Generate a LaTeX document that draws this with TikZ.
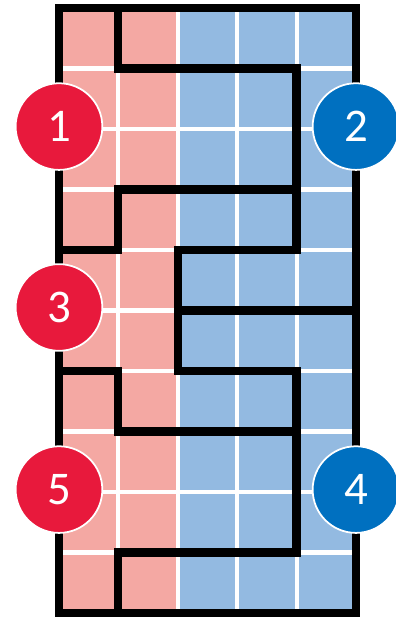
\documentclass[tikz,border=0pt]{standalone}
\usepackage{fontspec}
\setmainfont{Carlito}
\definecolor{cellred}{HTML}{F4A8A3}
\definecolor{cellblue}{HTML}{93BAE1}
\definecolor{badgered}{HTML}{E8193C}
\definecolor{badgeblue}{HTML}{0070C0}
\begin{document}
\begin{tikzpicture}[x=1.782cm, y=-1.815cm,
    gridline/.style={draw=white, line width=3.5pt},
    wall/.style={line width=7pt, line join=miter, line cap=rect},
    badge/.style={circle, draw=white, line width=1.5pt, minimum size=2.6cm, inner sep=0pt, text=white, font=\fontsize{40}{40}\selectfont},
]
\useasboundingbox (-0.993,-0.132) rectangle (5.657,10.066);
\fill[cellred] (0,0) rectangle (2,10);
\fill[cellblue] (2,0) rectangle (5,10);
\foreach \c in {1,...,4} \draw[gridline] (\c,0) -- (\c,10);
\foreach \r in {1,...,9} \draw[gridline] (0,\r) -- (5,\r);
\draw[wall] (0,0) rectangle (5,10);
\draw[wall] (1,0) -- (1,1) -- (4,1) -- (4,4) -- (2,4) -- (2,6) -- (4,6) -- (4,9) -- (1,9) -- (1,10);
\draw[wall] (0,4) -- (1,4) -- (1,3) -- (4,3);
\draw[wall] (2,5) -- (5,5);
\draw[wall] (0,6) -- (1,6) -- (1,7) -- (4,7);
\node[badge, fill=badgered] (b1) at (0,1.96) {1};
\node[badge, fill=badgeblue] (b2) at (5,1.96) {2};
\node[badge, fill=badgered] (b3) at (0,4.95) {3};
\node[badge, fill=badgeblue] (b4) at (5,7.96) {4};
\node[badge, fill=badgered] (b5) at (0,7.96) {5};
\end{tikzpicture}
\end{document}
